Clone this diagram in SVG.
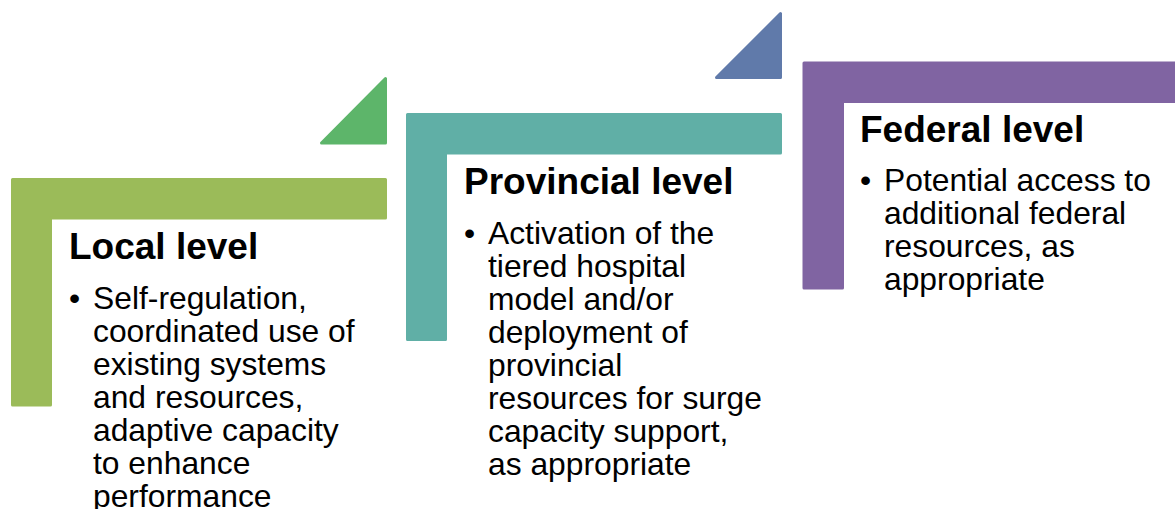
<svg xmlns="http://www.w3.org/2000/svg" width="1175" height="509" viewBox="0 0 1175 509">
  <style>
    .shape { stroke-width: 3; stroke-linejoin: round; }
    .green { fill: #9BBB59; stroke: #9BBB59; }
    .green-tri { fill: #5DB56A; stroke: #5DB56A; }
    .teal { fill: #60AFA6; stroke: #60AFA6; }
    .blue-tri { fill: #607AAA; stroke: #607AAA; }
    .purple { fill: #8064A2; stroke: #8064A2; }
    .title { font-family: "Liberation Sans", Arial, sans-serif; font-weight: bold; font-size: 37px; fill: #000; }
    .body { font-family: "Liberation Sans", Arial, sans-serif; font-size: 31.8px; fill: #000; }
  </style>
  <rect width="1175" height="509" fill="#fff"/>

  <!-- connectors: step arrows between levels -->
  <g id="connectors">
    <polygon class="shape green-tri" points="321.5,143 385.5,78.5 385.5,143"/>
    <polygon class="shape blue-tri" points="716.5,77.5 780.5,13.5 780.5,77.5"/>
  </g>

  <!-- Local level -->
  <g id="local">
    <polygon class="shape green" points="12.5,179.5 385.5,179.5 385.5,218 50.5,218 50.5,405 12.5,405"/>
    <text class="title" x="69" y="259">Local level</text>
    <g class="body">
      <text x="69" y="309">•</text>
      <text x="93" y="309">Self-regulation,</text>
      <text x="93" y="342">coordinated use of</text>
      <text x="93" y="375">existing systems</text>
      <text x="93" y="408">and resources,</text>
      <text x="93" y="441">adaptive capacity</text>
      <text x="93" y="474">to enhance</text>
      <text x="93" y="507">performance</text>
    </g>
  </g>

  <!-- Provincial level -->
  <g id="provincial">
    <polygon class="shape teal" points="407.5,114.5 780.5,114.5 780.5,153 445.5,153 445.5,339.5 407.5,339.5"/>
    <text class="title" x="464" y="194">Provincial level</text>
    <g class="body">
      <text x="464" y="244">•</text>
      <text x="488" y="244">Activation of the</text>
      <text x="488" y="277">tiered hospital</text>
      <text x="488" y="310">model and/or</text>
      <text x="488" y="343">deployment of</text>
      <text x="488" y="376">provincial</text>
      <text x="488" y="409">resources for surge</text>
      <text x="488" y="442">capacity support,</text>
      <text x="488" y="475">as appropriate</text>
    </g>
  </g>

  <!-- Federal level -->
  <g id="federal">
    <polygon class="shape purple" points="804,63 1180,63 1180,101.5 842.5,101.5 842.5,288 804,288"/>
    <text class="title" x="860" y="142">Federal level</text>
    <g class="body">
      <text x="860" y="191">•</text>
      <text x="884" y="191">Potential access to</text>
      <text x="884" y="224">additional federal</text>
      <text x="884" y="257">resources, as</text>
      <text x="884" y="290">appropriate</text>
    </g>
  </g>
</svg>
